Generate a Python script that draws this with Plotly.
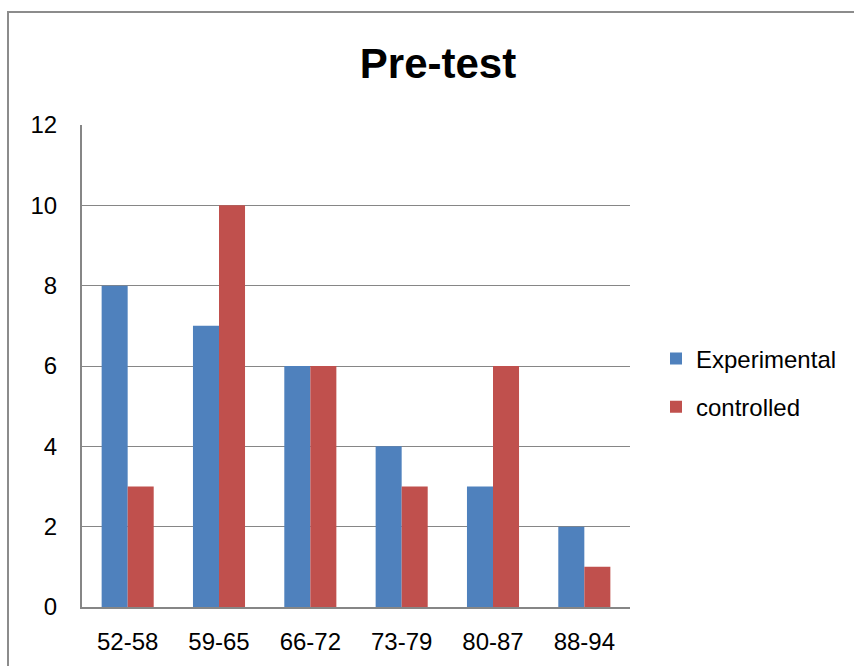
import plotly.graph_objects as go

categories = ["52-58", "59-65", "66-72", "73-79", "80-87", "88-94"]
experimental = [8, 7, 6, 4, 3, 2]
controlled = [3, 10, 6, 3, 6, 1]
y_ticks = [0, 2, 4, 6, 8, 10, 12]

W, H = 854, 666
L, R, T, B = 82, 630, 125, 607
pw, ph = R - L, B - T

fig = go.Figure()
fig.add_trace(go.Bar(x=categories, y=experimental, name="Experimental", legendgroup="e",
                     marker=dict(color="#4F81BD", line=dict(width=0))))
fig.add_trace(go.Bar(x=categories, y=controlled, name="controlled", legendgroup="c",
                     marker=dict(color="#C0504D", line=dict(width=0))))

font_family = "Liberation Sans, Arial, sans-serif"
fig.update_layout(
    width=W, height=H,
    margin=dict(l=L, r=W - R, t=T, b=H - B, pad=0, autoexpand=False),
    paper_bgcolor="white", plot_bgcolor="white",
    barmode="group", bargap=0.43, bargroupgap=0,
    font=dict(family=font_family, size=24, color="black"),
    title=dict(text="<b>Pre-test</b>", x=(438) / W, xanchor="center",
               y=1 - 63 / H, yanchor="middle",
               font=dict(family=font_family, size=42, color="black")),
    legend=dict(x=(656 - L) / pw, xanchor="left", y=1 - (383 - T) / ph, yanchor="middle",
                font=dict(family=font_family, size=24, color="black"),
                itemwidth=30, traceorder="grouped", tracegroupgap=14,
                bgcolor="rgba(0,0,0,0)"),
    showlegend=True,
)
fig.update_xaxes(showline=True, linecolor="#868686", linewidth=2, showgrid=False,
                 ticks="", ticklabelstandoff=12, tickfont=dict(size=24), automargin=False)
fig.update_yaxes(range=[0, 12], tickvals=y_ticks, showline=True, linecolor="#868686",
                 linewidth=2, showgrid=True, gridcolor="#868686", gridwidth=1,
                 ticks="", ticklabelstandoff=18, zeroline=False, tickfont=dict(size=24),
                 automargin=False)

# outer chart border (partially visible, as in the reference)
fig.add_shape(type="rect", xref="paper", yref="paper",
              x0=(8 - L) / pw, x1=(W + 20 - L) / pw,
              y0=-(H + 20 - B) / ph, y1=1 + (T - 12) / ph,
              line=dict(color="#8c8c8c", width=2), fillcolor="rgba(0,0,0,0)", layer="below")

fig.write_html("out.html", config={"displayModeBar": False},
               post_script="document.body.style.margin='0';document.body.style.padding='0';")
